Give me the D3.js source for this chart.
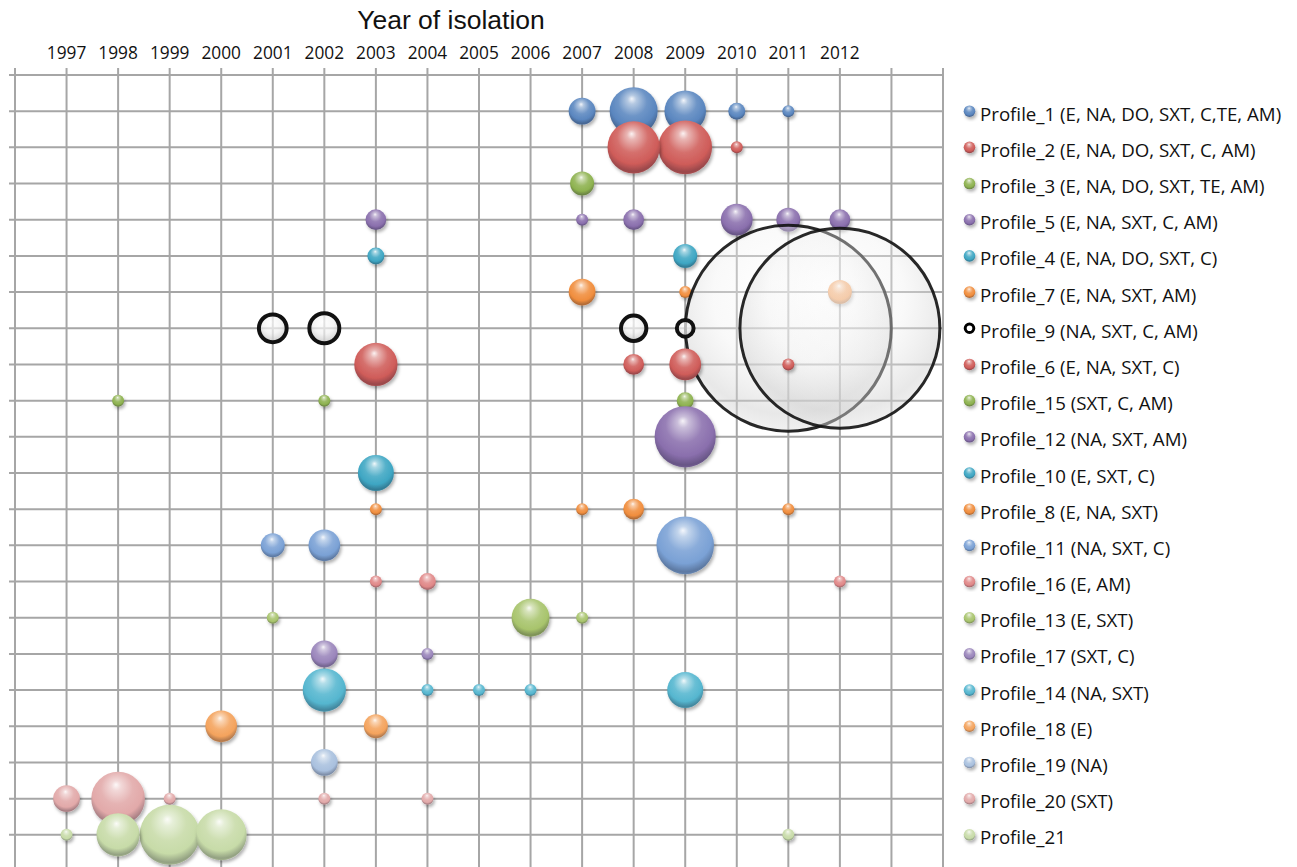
<!DOCTYPE html>
<html>
<head>
<meta charset="utf-8">
<script src="https://cdn.jsdelivr.net/npm/d3@7"></script>
<style>
  html, body { margin: 0; padding: 0; background: #fff; }
  svg { display: block; }
</style>
</head>
<body>
<svg id="chart" width="1297" height="867"></svg>
<script>
// ---------- DATA ----------
const title = "Year of isolation";
const tickYears = [1997,1998,1999,2000,2001,2002,2003,2004,2005,2006,2007,2008,2009,2010,2011,2012];
const gridYears = d3.range(1996, 2015);

const legendNames = [
  "Profile_1 (E, NA, DO, SXT, C,TE, AM)",
  "Profile_2 (E, NA, DO, SXT, C, AM)",
  "Profile_3 (E, NA, DO, SXT, TE, AM)",
  "Profile_5 (E, NA, SXT, C, AM)",
  "Profile_4 (E, NA, DO, SXT, C)",
  "Profile_7 (E, NA, SXT, AM)",
  "Profile_9 (NA, SXT, C, AM)",
  "Profile_6 (E, NA, SXT, C)",
  "Profile_15 (SXT, C, AM)",
  "Profile_12 (NA, SXT, AM)",
  "Profile_10 (E, SXT, C)",
  "Profile_8 (E, NA, SXT)",
  "Profile_11 (NA, SXT, C)",
  "Profile_16 (E, AM)",
  "Profile_13 (E, SXT)",
  "Profile_17 (SXT, C)",
  "Profile_14 (NA, SXT)",
  "Profile_18 (E)",
  "Profile_19 (NA)",
  "Profile_20 (SXT)",
  "Profile_21"
];

// [year, number of isolates (bubble size)]
const profile1  = [[2007,5],[2008,16],[2009,12],[2010,2],[2011,1]];
const profile2  = [[2008,19],[2009,20],[2010,1]];
const profile3  = [[2007,4]];
const profile5  = [[2003,3],[2007,1],[2008,3],[2010,7],[2011,4],[2012,3]];
const profile4  = [[2003,2],[2009,4]];
const profile7  = [[2007,5],[2009,1],[2012,4]];
const profile9  = [[2001,7],[2002,8],[2008,6],[2009,3],[2011,303],[2012,286]];
const profile6  = [[2003,13],[2008,3],[2009,7],[2011,1]];
const profile15 = [[1998,1],[2002,1],[2009,2]];
const profile12 = [[2009,26]];
const profile10 = [[2003,9]];
const profile8  = [[2003,1],[2007,1],[2008,3],[2011,1]];
const profile11 = [[2001,4],[2002,7],[2009,23]];
const profile16 = [[2003,1],[2004,2],[2012,1]];
const profile13 = [[2001,1],[2006,10],[2007,1]];
const profile17 = [[2002,5],[2004,1]];
const profile14 = [[2002,13],[2004,1],[2005,1],[2006,1],[2009,9]];
const profile18 = [[2000,7],[2003,4]];
const profile19 = [[2002,5]];
const profile20 = [[1997,5],[1998,20],[1999,1],[2002,1],[2004,1]];
const profile21 = [[1997,1],[1998,13],[1999,25],[2000,18],[2011,1]];

const seriesPoints = [profile1, profile2, profile3, profile5, profile4, profile7, profile9,
  profile6, profile15, profile12, profile10, profile8, profile11, profile16, profile13,
  profile17, profile14, profile18, profile19, profile20, profile21];

const seriesColors = ["#5a86bf","#cf5c59","#8db24f","#8a6fad","#3ea6c3","#f08d3d","ring",
  "#cf5c59","#8db24f","#8a6fad","#3ea6c3","#f08d3d","#7aa1d5","#e08888","#a8c46c",
  "#9a85bb","#55b6cf","#f4a35d","#a9c0de","#e2a9a9","#c7dba8"];

// ---------- LAYOUT ----------
const svg = d3.select("#chart");
const plot = {left: 15, right: 943, top: 75, bottom: 871};
const x = d3.scaleLinear().domain([1996, 2014]).range([plot.left, plot.right]);
const y = d3.scaleLinear().domain([0, 22]).range([plot.bottom, plot.top]);
const nSeries = legendNames.length;
const maxV = d3.max(seriesPoints.flat(), d => d[1]);
const r = d3.scaleSqrt().domain([0, maxV]).range([0, 6 * Math.sqrt(maxV)]);
const FONT = "'Open Sans', Lato, sans-serif";

const defs = svg.append("defs");
const shadow = defs.append("filter").attr("id", "shadow")
  .attr("x", "-30%").attr("y", "-30%").attr("width", "170%").attr("height", "170%");
shadow.append("feDropShadow").attr("dx", 1.5).attr("dy", 2.5).attr("stdDeviation", 1.8)
  .attr("flood-color", "#000").attr("flood-opacity", 0.3);

function makeGrad(id, base) {
  const g = defs.append("radialGradient").attr("id", id)
    .attr("cx", "50%").attr("cy", "38%").attr("r", "66%")
    .attr("fx", "46%").attr("fy", "24%");
  const mix = (t) => d3.interpolateRgb(base, "#ffffff")(t);
  const dark = (t) => d3.interpolateRgb(base, "#1a1a2a")(t);
  g.append("stop").attr("offset", "0%").attr("stop-color", mix(0.92));
  g.append("stop").attr("offset", "14%").attr("stop-color", mix(0.55));
  g.append("stop").attr("offset", "45%").attr("stop-color", mix(0.12));
  g.append("stop").attr("offset", "72%").attr("stop-color", base);
  g.append("stop").attr("offset", "90%").attr("stop-color", dark(0.3));
  g.append("stop").attr("offset", "100%").attr("stop-color", dark(0.12));
}
seriesColors.forEach((c, i) => { if (c !== "ring") makeGrad("g" + i, c); });

// ring (Profile_9) gradients
function ringGrad(id, op) {
  const rg = defs.append("radialGradient").attr("id", id)
    .attr("cx", "50%").attr("cy", "40%").attr("r", "62%").attr("fx", "45%").attr("fy", "28%");
  rg.append("stop").attr("offset", "0%").attr("stop-color", "#ffffff").attr("stop-opacity", op);
  rg.append("stop").attr("offset", "55%").attr("stop-color", "#efefef").attr("stop-opacity", op);
  rg.append("stop").attr("offset", "86%").attr("stop-color", "#cfcfcf").attr("stop-opacity", op + 0.12);
  rg.append("stop").attr("offset", "100%").attr("stop-color", "#e4e4e4").attr("stop-opacity", op + 0.1);
}
ringGrad("ringGrad", 0.7);
ringGrad("ringGradBig", 0.36);

// ---------- GRID ----------
const grid = svg.append("g").attr("stroke", "#a6a6a6").attr("stroke-width", 2);
grid.selectAll("line.v").data(gridYears).join("line")
  .attr("x1", d => x(d)).attr("x2", d => x(d))
  .attr("y1", plot.top - 7).attr("y2", plot.bottom);
grid.selectAll("line.h").data(d3.range(0, 23)).join("line")
  .attr("x1", plot.left - 6).attr("x2", plot.right)
  .attr("y1", d => y(d)).attr("y2", d => y(d));

// ---------- AXIS LABELS ----------
svg.append("text").text(title)
  .attr("x", 451).attr("y", 29).attr("text-anchor", "middle")
  .attr("font-family", "'Liberation Sans', Arial, sans-serif").attr("font-size", 26.5)
  .attr("fill", "#111");
svg.append("g").selectAll("text").data(tickYears).join("text")
  .text(d => d).attr("x", d => x(d)).attr("y", 59).attr("text-anchor", "middle")
  .attr("font-family", FONT).attr("font-size", 17.3).attr("fill", "#111");

// ---------- BUBBLES ----------
const rows = [];
seriesPoints.forEach((pts, i) => {
  const sorted = pts.slice().sort((a, b) => b[1] - a[1]);   // larger bubbles behind smaller ones
  sorted.forEach(p => rows.push({s: i, year: p[0], v: p[1], row: nSeries - i}));
});
const isRing = d => seriesColors[d.s] === "ring";
const bub = svg.append("g");
bub.selectAll("circle").data(rows).join("circle")
  .attr("cx", d => x(d.year)).attr("cy", d => y(d.row))
  .attr("r", d => isRing(d) ? r(d.v) - (d.v > 50 ? 1.5 : 2) : r(d.v))
  .attr("fill", d => isRing(d) ? (d.v > 50 ? "url(#ringGradBig)" : "url(#ringGrad)") : `url(#g${d.s})`)
  .attr("stroke", d => isRing(d) ? "#111" : "none")
  .attr("stroke-opacity", d => isRing(d) && d.v > 50 ? 0.9 : 1)
  .attr("stroke-width", d => isRing(d) ? (d.v > 50 ? 3 : 4) : 0)
  .attr("filter", d => isRing(d) ? null : "url(#shadow)");

// ---------- LEGEND ----------
const leg = svg.append("g");
legendNames.forEach((name, i) => {
  const ly = y(nSeries - i);
  const g = leg.append("g");
  if (seriesColors[i] === "ring") {
    g.append("circle").attr("cx", 969.5).attr("cy", ly).attr("r", 4.3)
      .attr("fill", "#fff").attr("stroke", "#000").attr("stroke-width", 3);
  } else {
    g.append("circle").attr("cx", 969.5).attr("cy", ly).attr("r", 5.8)
      .attr("fill", `url(#g${i})`).attr("filter", "url(#shadow)");
  }
  g.append("text").text(name).attr("x", 980).attr("y", ly + 9.5)
    .attr("font-family", FONT).attr("font-size", 18.7).attr("fill", "#111");
});
</script>
</body>
</html>
